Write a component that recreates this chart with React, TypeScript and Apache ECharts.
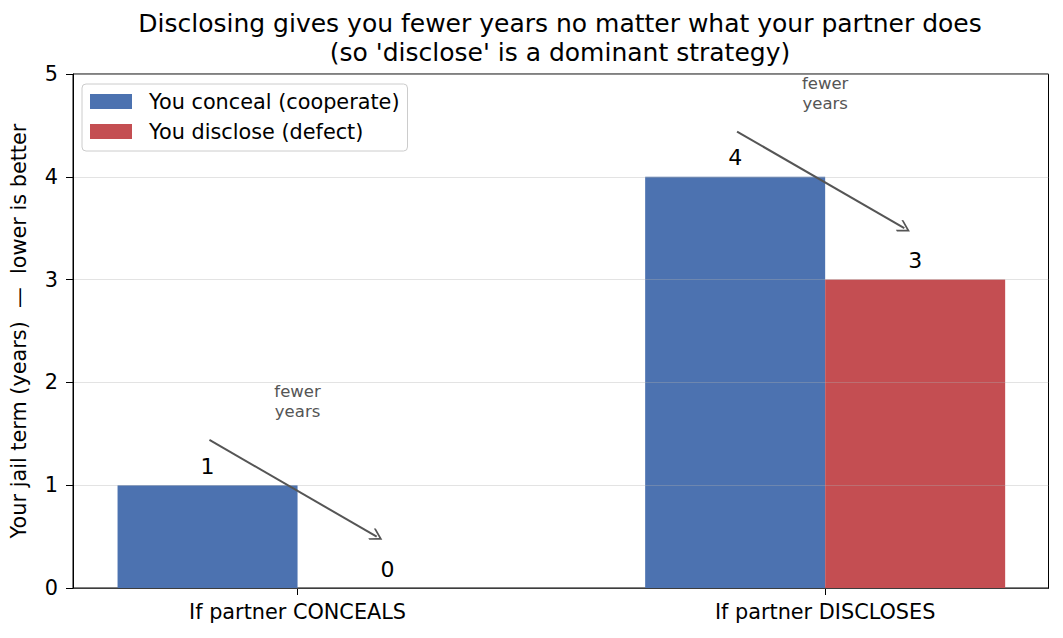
import React, { useEffect, useRef } from 'react';
import * as echarts from 'echarts';

const categories = ['If partner CONCEALS', 'If partner DISCLOSES'];
const concealYears = [1, 4];
const discloseYears = [0, 3];
const yTicks = [0, 1, 2, 3, 4, 5];
const seriesNames = ['You conceal (cooperate)', 'You disclose (defect)'];
const noteText = 'fewer\nyears';
const titleText =
  "Disclosing gives you fewer years no matter what your partner does\n(so 'disclose' is a dominant strategy)";

const FONT = '"DejaVu Sans", sans-serif';
const BLUE = '#4c72b0';
const RED = '#c44e52';

// open arrow head pointing up, echarts rotates it along the line
const ARROW_HEAD = 'path://M0,0 L10,9 L8.6,10.4 L0,2.8 L-8.6,10.4 L-10,9 Z';

export default function App() {
  const chartRef = useRef<HTMLDivElement>(null);

  useEffect(() => {
    if (!chartRef.current) return;
    const chart = echarts.init(chartRef.current, undefined, { renderer: 'svg' });

    const barLabel = {
      show: true,
      position: 'top',
      distance: 8,
      color: '#000',
      fontSize: 22,
      fontFamily: FONT,
      formatter: (p: any) => String(p.value[1]),
    };

    chart.setOption({
      animation: false,
      textStyle: { fontFamily: FONT },
      graphic: [
        {
          type: 'text',
          x: 560,
          y: 9,
          style: {
            text: titleText,
            textAlign: 'center',
            fontSize: 25,
            lineHeight: 29,
            fontFamily: FONT,
            fill: '#000',
          },
        },
      ],
      legend: {
        data: seriesNames,
        orient: 'vertical',
        left: 82,
        top: 84,
        icon: 'rect',
        itemWidth: 42,
        itemHeight: 15,
        itemGap: 9,
        padding: [7, 8, 9, 8],
        borderColor: '#cccccc',
        borderWidth: 1,
        borderRadius: 4,
        textStyle: { fontSize: 20.8, color: '#000', fontFamily: FONT, padding: [0, 0, 0, 12] },
      },
      grid: {
        left: 71,
        right: 14.5,
        top: 74,
        bottom: 50,
        show: true,
        borderColor: '#000',
        borderWidth: 1,
      },
      xAxis: {
        type: 'value',
        min: -0.4256,
        max: 1.4233,
        splitLine: { show: false },
        axisLine: { show: true, onZero: false, lineStyle: { color: '#000', width: 1 } },
        axisTick: {
          show: true,
          length: 7,
          customValues: categories.map((_, i) => i),
          lineStyle: { color: '#000' },
        },
        axisLabel: {
          customValues: categories.map((_, i) => i),
          formatter: (v: number) => categories[Math.round(v)] ?? '',
          color: '#000',
          fontSize: 20.8,
          margin: 13,
          fontFamily: FONT,
        },
      },
      yAxis: {
        type: 'value',
        min: yTicks[0],
        max: yTicks[yTicks.length - 1],
        interval: 1,
        z: 3,
        name: 'Your jail term (years)  —  lower is better',
        nameLocation: 'middle',
        nameGap: 44,
        nameTextStyle: { fontSize: 20.8, color: '#000', fontFamily: FONT },
        axisLine: { show: true, onZero: false, lineStyle: { color: '#000', width: 1 } },
        axisTick: { show: true, length: 7, lineStyle: { color: '#000' } },
        axisLabel: { color: '#000', fontSize: 20.8, margin: 15, fontFamily: FONT },
        splitLine: { show: true, lineStyle: { color: 'rgba(176,176,176,0.35)', width: 1 } },
      },
      series: [
        {
          name: seriesNames[0],
          type: 'bar',
          barWidth: 180,
          barGap: '0%',
          itemStyle: { color: BLUE },
          label: barLabel,
          data: categories.map((_, i) => [i, concealYears[i]]),
        },
        {
          name: seriesNames[1],
          type: 'bar',
          barWidth: 180,
          barGap: '0%',
          itemStyle: { color: RED },
          label: barLabel,
          data: categories.map((_, i) => [i, discloseYears[i]]),
        },
        {
          name: 'notes',
          type: 'line',
          data: [],
          silent: true,
          z: 5,
          markLine: {
            silent: true,
            symbol: ['none', ARROW_HEAD],
            symbolSize: [13, 13],
            lineStyle: { color: '#555555', width: 2, type: 'solid' },
            label: { show: false },
            data: categories.map((_, i) => [
              { coord: [i - 0.167, concealYears[i] + 0.44] },
              { coord: [i + 0.15, discloseYears[i] + 0.5] },
            ]),
          },
          markPoint: {
            silent: true,
            symbol: 'circle',
            symbolSize: 0,
            label: {
              show: true,
              position: 'inside',
              formatter: noteText,
              color: '#555555',
              fontSize: 16.5,
              lineHeight: 20,
              fontFamily: FONT,
            },
            data: categories.map((_, i) => ({ coord: [i, concealYears[i] + 0.81] })),
          },
        },
      ],
    });

    return () => {
      chart.dispose();
    };
  }, []);

  return (
    <div
      ref={chartRef}
      style={{ position: 'fixed', left: 0, top: 0, width: 1063, height: 638, background: '#fff' }}
    />
  );
}
